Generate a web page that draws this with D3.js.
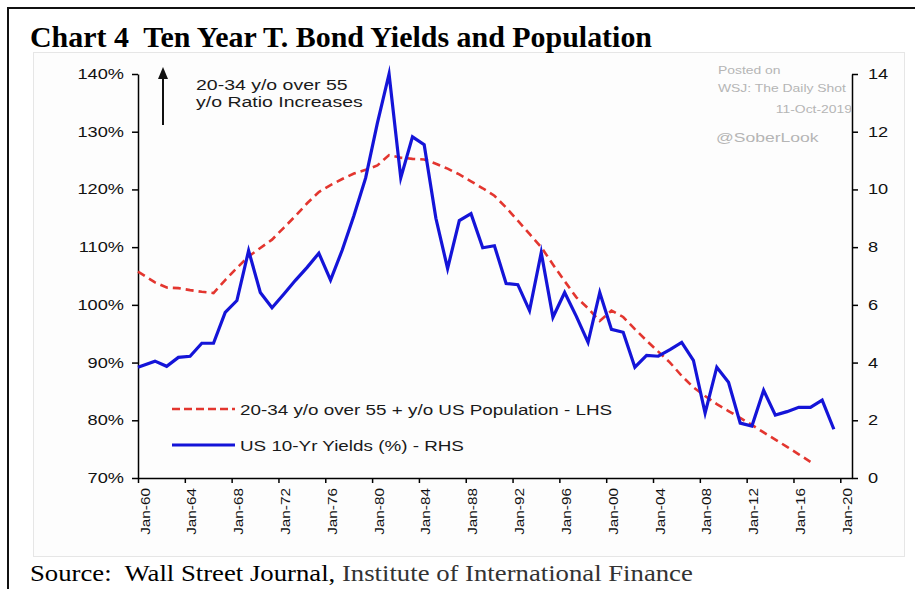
<!DOCTYPE html>
<html>
<head>
<meta charset="utf-8">
<script src="https://d3js.org/d3.v7.min.js"></script>
<style>
  body { margin: 0; background: #fff; }
  svg { display: block; }
  .sans { font-family: 'Liberation Sans', Arial, sans-serif; }
  .serif { font-family: 'Liberation Serif', 'Times New Roman', serif; }
</style>
</head>
<body>
<div id="chart"></div>
<script>
// Years of the annual observations
const yieldYears = [1960, 1961, 1962, 1963, 1964, 1965, 1966, 1967, 1968, 1969,
  1970, 1971, 1972, 1973, 1974, 1975, 1976, 1977, 1978, 1979,
  1980, 1981, 1982, 1983, 1984, 1985, 1986, 1987, 1988, 1989,
  1990, 1991, 1992, 1993, 1994, 1995, 1996, 1997, 1998, 1999,
  2000, 2001, 2002, 2003, 2004, 2005, 2006, 2007, 2008, 2009,
  2010, 2011, 2012, 2013, 2014, 2015, 2016, 2017, 2018, 2019]
// US 10-Yr yields (%) - RHS
const yields = [3.84, 4.05, 3.87, 4.18, 4.22, 4.67, 4.67, 5.74, 6.15, 7.88,
  6.43, 5.9, 6.37, 6.85, 7.3, 7.79, 6.86, 7.9, 9.1, 10.4,
  12.3, 14.0, 10.4, 11.82, 11.55, 9.0, 7.26, 8.92, 9.16, 7.98,
  8.05, 6.74, 6.7, 5.8, 7.81, 5.57, 6.43, 5.6, 4.7, 6.43,
  5.15, 5.05, 3.84, 4.25, 4.22, 4.45, 4.7, 4.08, 2.25, 3.84,
  3.32, 1.9, 1.8, 3.04, 2.18, 2.3, 2.45, 2.45, 2.7, 1.69]

const ratioYears = yieldYears.slice(0, 58) // 1960 - 2017
// 20-34 y/o over 55+ y/o US population (%) - LHS
const ratio = [105.75, 103.9, 103.0, 102.9, 102.55, 102.26, 102.05, 104.3, 106.4, 108.4,
  109.85, 111.3, 113.35, 115.4, 117.6, 119.55, 120.75, 121.8, 122.75, 123.4,
  124.15, 125.95, 125.5, 125.3, 125.2, 124.45, 123.6, 122.6, 121.4, 120.2,
  118.9, 116.85, 114.6, 112.3, 110.0, 107.0, 104.1, 101.3, 99.4, 97.2,
  99.0, 97.9, 95.8, 93.8, 91.9, 90.0, 87.7, 85.7, 84.2, 82.8,
  81.6, 80.4, 79.2, 77.9, 76.65, 75.4, 74.1, 72.8]

const tickYears = [1960, 1964, 1968, 1972, 1976, 1980, 1984, 1988, 1992, 1996, 2000, 2004, 2008, 2012, 2016, 2020]
const leftTicks = [70, 80, 90, 100, 110, 120, 130, 140]
const rightTicks = [0, 2, 4, 6, 8, 10, 12, 14]

const legendLabels = ['20-34 y/o over 55 + y/o US Population - LHS', 'US 10-Yr Yields (%) - RHS']

const W = 915
const H = 589
const S = 1.3 // text in the pasted chart is wider than Arial, stretch it
const BLUE = '#1414d8'
const RED = '#e3362f'

document.addEventListener('DOMContentLoaded', start)

function start () {
  const svg = d3.select('#chart').append('svg')
    .attr('width', W)
    .attr('height', H)
  drawFrame(svg)
  const x = d3.scaleLinear().domain([1960, 2021]).range([138, 852])
  const yL = d3.scaleLinear().domain([70, 140]).range([478, 74])
  const yR = d3.scaleLinear().domain([0, 14]).range([478, 74])
  drawAxes(svg, x, yL, yR)
  drawLines(svg, x, yL, yR)
  drawLegend(svg)
  drawNotes(svg)
}

// annual points sit mid-year, the first one is pinned on the axis
function when (year) {
  return year === 1960 ? 1960 : year + 0.45
}

function label (g, x, y, text, size, fill) {
  return g.append('text')
    .attr('class', 'sans')
    .attr('transform', `translate(${x},${y}) scale(${S},1)`)
    .style('font-size', size + 'px')
    .attr('fill', fill)
    .text(text)
}

function drawFrame (svg) {
  svg.append('rect')
    .attr('x', 33.5).attr('y', 52.5)
    .attr('width', 871).attr('height', 504)
    .attr('fill', '#fdfdfd')
    .attr('stroke', '#e6e6e6')
  svg.append('line')
    .attr('x1', 8).attr('x2', W).attr('y1', 8).attr('y2', 8)
    .attr('stroke', '#111').attr('stroke-width', 2)
  svg.append('line')
    .attr('x1', 8).attr('x2', 8).attr('y1', 7).attr('y2', H)
    .attr('stroke', '#111').attr('stroke-width', 2)

  svg.append('text')
    .attr('class', 'serif')
    .attr('x', 30).attr('y', 47)
    .attr('textLength', 622)
    .attr('lengthAdjust', 'spacingAndGlyphs')
    .style('font-size', '29.5px')
    .style('font-weight', 'bold')
    .style('white-space', 'pre')
    .attr('fill', '#000')
    .text('Chart 4  Ten Year T. Bond Yields and Population')

  const src = svg.append('text')
    .attr('class', 'serif')
    .attr('transform', 'translate(30,581) scale(1.162,1)')
    .style('font-size', '23px')
    .style('white-space', 'pre')
  src.append('tspan').attr('fill', '#000').text('Source:  Wall Street Journal, ')
  src.append('tspan').attr('fill', '#333').text('Institute of International Finance')
}

function drawAxes (svg, x, yL, yR) {
  const left = svg.append('g')
    .attr('transform', 'translate(138,0)')
    .call(d3.axisLeft(yL).tickValues(leftTicks).tickFormat(d => d + '%').tickSize(6).tickSizeOuter(0))
  left.selectAll('text')
    .attr('x', -14 / S)
    .attr('transform', `scale(${S},1)`)

  const right = svg.append('g')
    .attr('transform', 'translate(852,0)')
    .call(d3.axisRight(yR).tickValues(rightTicks).tickSize(6).tickSizeOuter(0))
  right.selectAll('text')
    .attr('x', 16 / S)
    .attr('transform', `scale(${S},1)`)

  const bottom = svg.append('g')
    .attr('transform', 'translate(0,478)')
    .call(d3.axisBottom(x).tickValues(tickYears)
      .tickFormat(d => 'Jan-' + String(d).slice(2)).tickSize(5).tickSizeOuter(0))
  bottom.selectAll('text')
    .attr('x', 0).attr('y', 0).attr('dy', 0)
    .attr('transform', 'translate(11,10) rotate(-90) scale(1.18,1)')
    .style('text-anchor', 'end')
    .style('font-size', '13px')

  for (const g of [left, right, bottom]) {
    g.attr('class', 'sans').attr('color', '#000')
    g.selectAll('path, line').attr('stroke-width', 1.5)
    g.selectAll('text').attr('fill', '#111')
  }
  left.selectAll('text').style('font-size', '14px')
  right.selectAll('text').style('font-size', '14px')
}

function drawLines (svg, x, yL, yR) {
  const ratioLine = d3.line()
    .x((d, i) => x(when(ratioYears[i])))
    .y(d => yL(d))
  const yieldLine = d3.line()
    .x((d, i) => x(when(yieldYears[i])))
    .y(d => yR(d))

  svg.append('path')
    .datum(ratio)
    .attr('d', ratioLine)
    .attr('fill', 'none')
    .attr('stroke', RED)
    .attr('stroke-width', 2.6)
    .attr('stroke-dasharray', '8,5')

  svg.append('path')
    .datum(yields)
    .attr('d', yieldLine)
    .attr('fill', 'none')
    .attr('stroke', BLUE)
    .attr('stroke-width', 3.2)
    .attr('stroke-linejoin', 'miter')
    .attr('stroke-miterlimit', 6)
}

function drawLegend (svg) {
  const g = svg.append('g')
  const rows = [
    { y: 409, color: RED, dash: '8,4' },
    { y: 445, color: BLUE, dash: null }
  ]
  rows.forEach((r, i) => {
    g.append('line')
      .attr('x1', 172).attr('x2', 235)
      .attr('y1', r.y).attr('y2', r.y)
      .attr('stroke', r.color)
      .attr('stroke-width', r.dash ? 2.6 : 3)
      .attr('stroke-dasharray', r.dash)
    label(g, 240, r.y + 5.5, legendLabels[i], 14.5, '#1a1a1a')
  })
}

function drawNotes (svg) {
  const g = svg.append('g')
  // arrow
  g.append('line')
    .attr('x1', 163).attr('x2', 163).attr('y1', 125).attr('y2', 78)
    .attr('stroke', '#111').attr('stroke-width', 2)
  g.append('path')
    .attr('d', 'M163,67 L168,79 L158,79 Z')
    .attr('fill', '#111')
  label(g, 196, 90, '20-34 y/o over 55', 15, '#1a1a1a')
  label(g, 196, 107, 'y/o Ratio Increases', 15, '#1a1a1a')

  // watermark
  const grey = '#b5b5b5'
  label(g, 718, 74, 'Posted on', 10.7, grey)
  label(g, 718, 92, 'WSJ: The Daily Shot', 10.7, grey)
  label(g, 852, 113, '11-Oct-2019', 10.7, grey).style('text-anchor', 'end')
  label(g, 716, 142, '@SoberLook', 13.5, grey)
}
</script>
</body>
</html>
